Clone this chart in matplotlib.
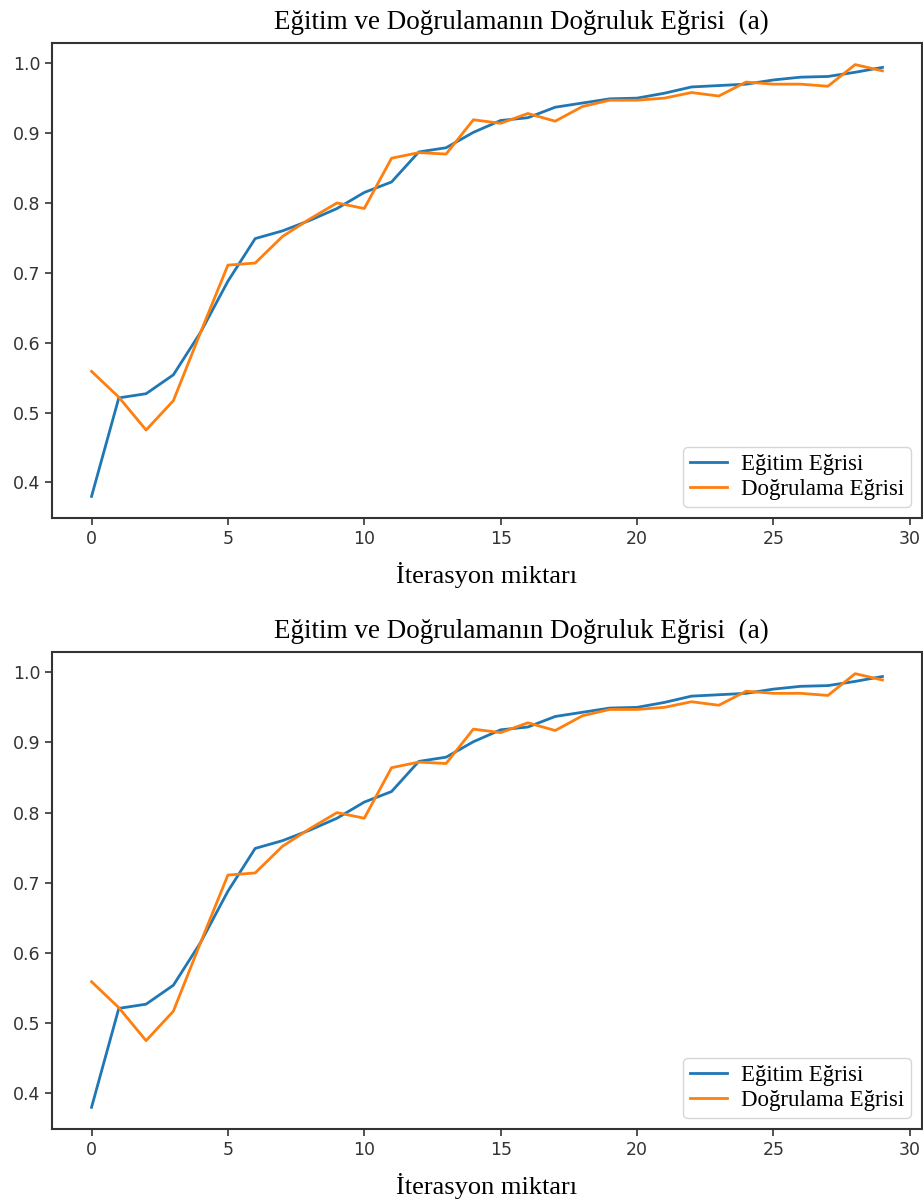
import matplotlib.pyplot as plt
import numpy as np

# Doğruluk değerleri (her iterasyon için)
iterasyon = np.arange(30)
egitim = [0.380, 0.521, 0.527, 0.554, 0.615, 0.688, 0.749, 0.760, 0.775, 0.792,
          0.815, 0.830, 0.873, 0.879, 0.901, 0.918, 0.922, 0.937, 0.943, 0.949,
          0.950, 0.957, 0.966, 0.968, 0.970, 0.976, 0.980, 0.981, 0.987, 0.994]
dogrulama = [0.559, 0.522, 0.475, 0.517, 0.615, 0.711, 0.714, 0.752, 0.777, 0.800,
             0.792, 0.864, 0.872, 0.870, 0.919, 0.914, 0.928, 0.917, 0.938, 0.947,
             0.947, 0.950, 0.958, 0.953, 0.973, 0.970, 0.970, 0.967, 0.998, 0.989]

baslik = 'Eğitim ve Doğrulamanın Doğruluk Eğrisi  (a)'
x_etiket = 'İterasyon miktarı'
etiketler = ['Eğitim Eğrisi', 'Doğrulama Eğrisi']

serif = ['Liberation Serif', 'DejaVu Serif']

fig = plt.figure(figsize=(9.23, 12), dpi=100)

# iki aynı grafik alt alta
for alt in [(52/923, 1 - 518/1200, 870/923, 475/1200),
            (52/923, 1 - 1129/1200, 870/923, 477/1200)]:
    ax = fig.add_axes(alt)
    ax.plot(iterasyon, egitim, color='#1f77b4', linewidth=2, label=etiketler[0])
    ax.plot(iterasyon, dogrulama, color='#ff7f0e', linewidth=2, label=etiketler[1])
    ax.set_xticks([0, 5, 10, 15, 20, 25, 30])
    ax.set_yticks([0.4, 0.5, 0.6, 0.7, 0.8, 0.9, 1.0])
    ax.tick_params(labelsize=12.5, length=5, width=1.2, colors='#333333')
    for s in ax.spines.values():
        s.set_linewidth(1.5)
        s.set_color('#333333')
    # başlık biraz sağa kaydırılmış
    ax.set_title(baslik, fontsize=19.5, family=serif, pad=10, x=0.539)
    ax.set_xlabel(x_etiket, fontsize=19, family=serif, labelpad=10)
    ax.legend(loc='lower right', prop={'family': serif, 'size': 16.5},
              handlelength=1.6, handletextpad=0.6, borderaxespad=0.5,
              labelspacing=0.15, borderpad=0.3)

plt.savefig('out.png', dpi=100)
